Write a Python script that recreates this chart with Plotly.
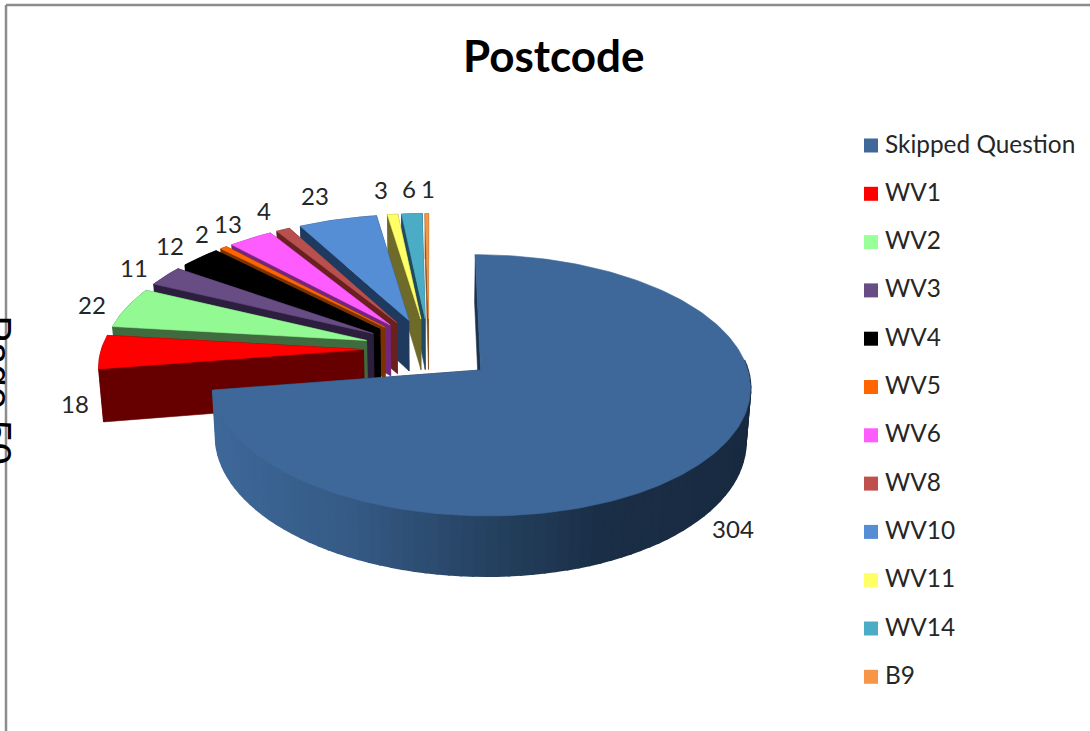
import math
import numpy as np
import plotly.graph_objects as go

# ---------- data ----------
categories = ["Skipped Question", "WV1", "WV2", "WV3", "WV4", "WV5",
              "WV6", "WV8", "WV10", "WV11", "WV14", "B9"]
values = [304, 18, 22, 11, 12, 2, 13, 4, 23, 3, 6, 1]

# ---------- styles ----------
top_colors = ["#3e6899", "#ff0000", "#93f993", "#684c84", "#000000", "#ff6600",
              "#ff5cff", "#b85050", "#558ed5", "#ffff66", "#4bacc6", "#f79646"]
wall_colors = ["#1c3350", "#660000", "#3f6b3f", "#2b1f3d", "#000000", "#7a3200",
               "#74267a", "#6b2020", "#1f3a5f", "#6e6a2a", "#1f4a60", "#8a5020"]
legend_colors = ["#3e6899", "#ff0000", "#99ff99", "#684c84", "#000000", "#ff6600",
                 "#ff5cff", "#c0504d", "#558ed5", "#ffff66", "#4bacc6", "#f79646"]
pulls = [0.255] + [0.25] * 11
label_xy = [(733, 532), (75, 407), (92, 308), (134, 271), (170, 249), (202, 237),
            (228, 227), (264, 214), (315, 199), (381, 193), (409, 192), (428, 192)]
FONT = "Lato"
TEXT = "#262626"

# projection of the tilted pie
CX, CY, RX, RY, K, DEPTH, SHRINK = 429, 349, 262, 124, 0.115, 52, 0.985


def project(u, v):
    s = 1 / (1 - K * v)
    return CX + RX * u * s, CY + RY * v * s, s


def lower(p):
    x, y, s = p
    return CX + (x - CX) * SHRINK, y + DEPTH * s


def poly(fig, xs, ys, color, width=0.6):
    fig.add_trace(go.Scatter(x=list(xs), y=list(ys), mode="lines", fill="toself",
                             fillcolor=color, line=dict(color=color, width=width),
                             hoverinfo="skip", showlegend=False))


def mix(a, b, t):
    ca = [int(a[i:i + 2], 16) for i in (1, 3, 5)]
    cb = [int(b[i:i + 2], 16) for i in (1, 3, 5)]
    return "#" + "".join(f"{round(p + (q - p) * t):02x}" for p, q in zip(ca, cb))


def rim_shade(x):
    stops = [(215, "#3e6899"), (350, "#355a85"), (480, "#264363"),
             (600, "#1a2e46"), (750, "#182a40")]
    for (x0, c0), (x1, c1) in zip(stops, stops[1:]):
        if x <= x1:
            return mix(c0, c1, max(0, (x - x0) / (x1 - x0)))
    return stops[-1][1]


fig = go.Figure()

total = sum(values)
edges = np.cumsum([0] + values) / total * 2 * math.pi

# back to front: the smallest last categories first, the large slice last
for i in list(range(len(values) - 1, -1, -1)):
    a0, a1 = edges[i], edges[i + 1]
    mid = (a0 + a1) / 2
    ou, ov = pulls[i] * math.sin(mid), -pulls[i] * math.cos(mid)
    n = max(4, int((a1 - a0) / 0.02))
    th = np.linspace(a0, a1, n)
    apex = project(ou, ov)
    arc = [project(ou + math.sin(t), ov - math.cos(t)) for t in th]

    # radial walls
    for edge in (arc[-1], arc[0]):
        la, le = lower(apex), lower(edge)
        poly(fig, [apex[0], edge[0], le[0], la[0], apex[0]],
             [apex[1], edge[1], le[1], la[1], apex[1]], wall_colors[i])

    # outer rim
    if i == 0:
        step = 2
        for j in range(0, len(arc) - step, step):
            if th[j] < math.pi / 2 - 0.1:
                continue
            seg = arc[j:j + step + 1]
            low = [lower(p) for p in seg]
            xs = [p[0] for p in seg] + [p[0] for p in low[::-1]]
            ys = [p[1] for p in seg] + [p[1] for p in low[::-1]]
            poly(fig, xs + xs[:1], ys + ys[:1], rim_shade(sum(xs) / len(xs)), width=2)
    else:
        low = [lower(p) for p in arc]
        xs = [p[0] for p in arc] + [p[0] for p in low[::-1]]
        ys = [p[1] for p in arc] + [p[1] for p in low[::-1]]
        poly(fig, xs + xs[:1], ys + ys[:1], wall_colors[i])

    # top face
    xs = [apex[0]] + [p[0] for p in arc] + [apex[0]]
    ys = [apex[1]] + [p[1] for p in arc] + [apex[1]]
    poly(fig, xs, ys, top_colors[i])

# value labels
fig.add_trace(go.Scatter(
    x=[p[0] for p in label_xy], y=[p[1] for p in label_xy], mode="text",
    text=[str(v) for v in values], textposition="middle center",
    textfont=dict(family=FONT, size=24, color=TEXT),
    hoverinfo="skip", showlegend=False))

# legend
leg_y = [146.5 + k * 48.3 for k in range(len(categories))]
fig.add_trace(go.Scatter(
    x=[871] * len(categories), y=[y - 1 for y in leg_y], mode="markers",
    marker=dict(symbol="square", size=14, color=legend_colors, line=dict(width=0)),
    hoverinfo="skip", showlegend=False))
fig.add_trace(go.Scatter(
    x=[885] * len(categories), y=leg_y, mode="text",
    text=categories, textposition="middle right",
    textfont=dict(family=FONT, size=24.4, color=TEXT),
    hoverinfo="skip", showlegend=False))

fig.add_annotation(x=-0.025, y=0.466, xref="paper", yref="paper", text="Page 50", textangle=90,
                   showarrow=False, font=dict(family="Liberation Sans", size=40, color="#000000"))
fig.add_annotation(x=554, y=55, xref="x", yref="y", text="<b>Postcode</b>",
                   showarrow=False, font=dict(family=FONT, size=44, color="#000000"))

# outer chart frame (top and left edges only are in view)
fig.add_shape(type="line", x0=6, x1=1090, y0=5, y1=5, xref="x", yref="y",
              line=dict(color="#8c8c8c", width=2.5), layer="above")
fig.add_shape(type="line", x0=6, x1=6, y0=5, y1=731, xref="x", yref="y",
              line=dict(color="#8c8c8c", width=2.5), layer="above")

fig.update_layout(
    width=1090, height=731, margin=dict(l=0, r=0, t=0, b=0),
    paper_bgcolor="white", plot_bgcolor="white", showlegend=False,
    xaxis=dict(range=[0, 1090], visible=False, fixedrange=True),
    yaxis=dict(range=[731, 0], visible=False, fixedrange=True),
)

fig.write_html("out.html", config=dict(displayModeBar=False),
               post_script="document.body.style.margin='0';document.body.style.overflow='hidden';")
